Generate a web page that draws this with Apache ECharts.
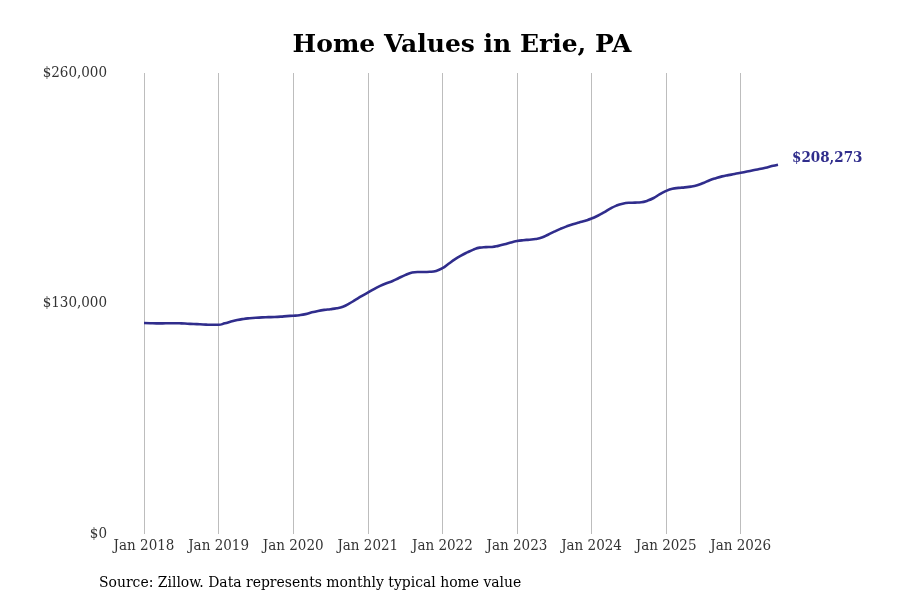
<!DOCTYPE html>
<html>
<head>
<meta charset="utf-8">
<script src="https://cdn.jsdelivr.net/npm/echarts@6/dist/echarts.min.js"></script>
<style>html,body{margin:0;padding:0;background:#fff}#c{width:900px;height:600px}</style>
</head>
<body>
<div id="c"></div>
<script>
const monthNames = ["Jan","Feb","Mar","Apr","May","Jun","Jul","Aug","Sep","Oct","Nov","Dec"];
const years = [2018,2019,2020,2021,2022,2023,2024,2025,2026];
const endMonthIndex = 6; // Jul 2026
const categories = [];
years.forEach(y => monthNames.forEach((m, i) => {
  if (y < 2026 || i <= endMonthIndex) categories.push(m + " " + y);
}));
const homeValues = [
  119000,118900,118800,118800,118900,118900,118800,118600,118400,118300,118100,118000,
  118000,118800,119800,120700,121300,121700,122000,122200,122300,122400,122600,122900,
  123100,123400,124000,125000,125800,126400,126800,127300,128200,129900,132000,134100,
  136100,138100,139900,141400,142700,144400,146000,147300,147800,147800,147900,148400,
  149900,152400,154900,157000,158800,160400,161500,161800,161900,162500,163400,164400,
  165200,165700,166000,166400,167200,168800,170500,172100,173500,174700,175700,176700,
  177900,179500,181400,183500,185200,186300,186800,186900,187100,188000,189500,191700,
  193500,194700,195200,195500,195900,196700,198000,199500,200700,201700,202400,203000,
  203700,204400,205100,205800,206600,207500,208273
];
const yTicks = [0,130000,260000];
const titleText = "Home Values in Erie, PA";
const sourceText = "Source: Zillow. Data represents monthly typical home value";
const lineColor = "#302d8c";
const serif = "'DejaVu Serif Condensed', 'DejaVu Serif', serif";

const chart = echarts.init(document.getElementById('c'));
chart.setOption({
  backgroundColor: '#fff',
  animation: false,
  title: {
    text: titleText, left: 457, textAlign: 'center', top: 28,
    textStyle: {fontFamily: "'DejaVu Serif', serif", fontWeight: 'bold', fontSize: 25, color: '#000'}
  },
  grid: {left: 144, right: 122, top: 73, bottom: 66},
  xAxis: {
    type: 'category', data: categories, boundaryGap: false,
    axisLine: {show: false}, axisTick: {show: false},
    axisLabel: {interval: (i, v) => v.startsWith('Jan'), fontFamily: serif, fontSize: 15, color: '#333', margin: 5},
    splitLine: {show: true, interval: (i, v) => v.startsWith('Jan'), lineStyle: {color: '#bdbdbd', width: 1}}
  },
  yAxis: {
    type: 'value', min: yTicks[0], max: yTicks[yTicks.length-1], interval: yTicks[1]-yTicks[0],
    axisLine: {show: false}, axisTick: {show: false}, splitLine: {show: false},
    axisLabel: {formatter: v => '$' + v.toLocaleString('en-US'), fontFamily: serif, fontSize: 15, color: '#333', margin: 37}
  },
  series: [{
    type: 'line', data: homeValues, smooth: true, showSymbol: false,
    lineStyle: {color: lineColor, width: 2.6},
    endLabel: {
      show: true, formatter: p => '$' + p.value.toLocaleString('en-US'),
      fontFamily: serif, fontWeight: 'bold', fontSize: 15, color: lineColor, offset: [6, -7]
    }
  }],
  graphic: [{
    type: 'text', left: 99, top: 575,
    style: {text: sourceText, font: "15.5px " + serif, fill: '#000'}
  }]
});
</script>
</body>
</html>
